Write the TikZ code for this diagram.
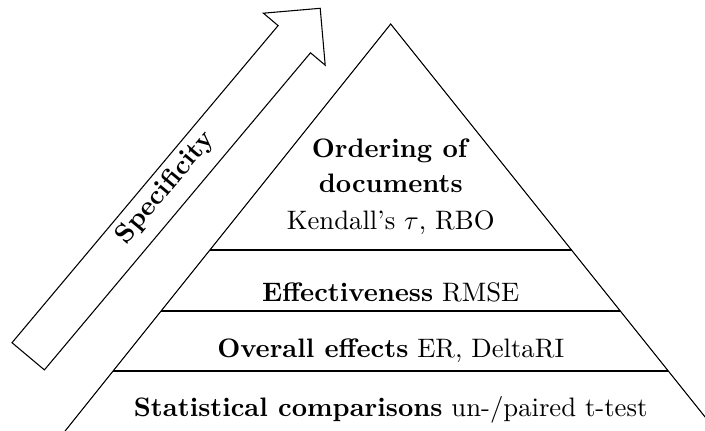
\documentclass[tikz,border=0pt]{standalone}
\begin{document}
\begin{tikzpicture}[x=0.3745pt,y=-0.3745pt,
  lbl/.style={anchor=base, inner sep=0pt, align=center},
  edge/.style={line width=0.4pt}]
\clip (0,0) rectangle (705,430);
% pyramid
\coordinate (apex) at (390.7,24);
\coordinate (bl) at (57.9,440);
\coordinate (br) at (723.5,440);
\draw[edge] (bl) -- (apex) -- (br);
\coordinate (l1a) at (209.9,250);
\coordinate (l1b) at (571.5,250);
\coordinate (l2a) at (161.1,311);
\coordinate (l2b) at (620.3,311);
\coordinate (l3a) at (113.1,371);
\coordinate (l3b) at (668.3,371);
\draw[edge] (l1a) -- (l1b);
\draw[edge] (l2a) -- (l2b);
\draw[edge] (l3a) -- (l3b);
% arrow
\coordinate (t1) at (12.0,342.7);
\coordinate (i1) at (278.1,25.6);
\coordinate (c1) at (263.4,13.2);
\coordinate (tip) at (320.2,8.3);
\coordinate (c2) at (325.2,65.2);
\coordinate (i2) at (310.5,52.8);
\coordinate (t2) at (44.4,369.9);
\draw[edge] (t1) -- (i1) -- (c1) -- (tip) -- (c2) -- (i2) -- (t2) -- cycle;
\node[rotate=50, font=\bfseries, inner sep=0pt] (spec) at (165.5,188) {Specificity};
% labels
\node[lbl] (ord) at (390.7,192.7) {\textbf{Ordering of}\\[1.26pt]\textbf{documents}};
\node[lbl] (ken) at (390.7,230) {Kendall's $\tau$, RBO};
\node[lbl] (eff) at (390.7,301) {\textbf{Effectiveness} RMSE};
\node[lbl] (ove) at (390.7,357) {\textbf{Overall effects} ER, DeltaRI};
\node[lbl] (sta) at (390.7,416) {\textbf{Statistical comparisons} un-/paired t-test};
\end{tikzpicture}
\end{document}
